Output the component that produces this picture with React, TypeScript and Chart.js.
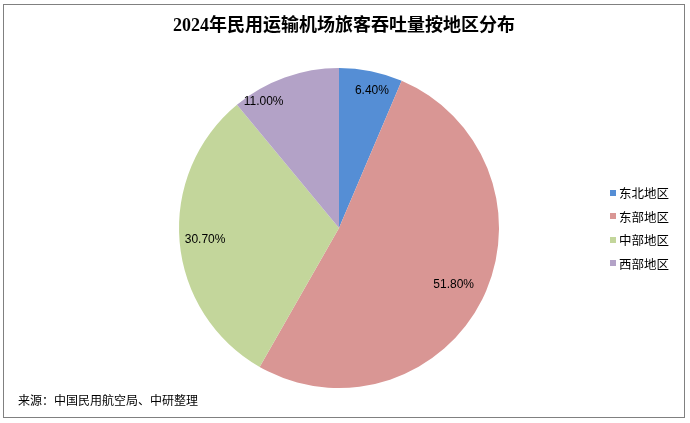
import React, { useEffect, useRef } from "react";
import { Chart, registerables } from "chart.js";

Chart.register(...registerables);

const TITLE = "2024年民用运输机场旅客吞吐量按地区分布";
const SOURCE = "来源：中国民用航空局、中研整理";
const categories = ["东北地区", "东部地区", "中部地区", "西部地区"];
const shares = [6.4, 51.8, 30.7, 11.0];
const colors = ["#558ED5", "#D99694", "#C3D69B", "#B3A2C7"];
// label placement style: radial fraction and angle nudge (degrees)
const labelRadius = [0.88, 0.8, 0.84, 0.92];
const labelAngleNudge = [2, 0, 0, -11];

const labelPlugin = {
  id: "pctLabels",
  afterDatasetsDraw(chart: any) {
    const ctx = chart.ctx;
    const meta = chart.getDatasetMeta(0);
    ctx.save();
    ctx.font = "12px 'Liberation Sans', Arial, sans-serif";
    ctx.fillStyle = "#000";
    ctx.textAlign = "center";
    ctx.textBaseline = "middle";
    meta.data.forEach((arc: any, i: number) => {
      const mid = (arc.startAngle + arc.endAngle) / 2 + (labelAngleNudge[i] * Math.PI) / 180;
      const r = arc.outerRadius * labelRadius[i];
      const x = arc.x + Math.cos(mid) * r;
      const y = arc.y + Math.sin(mid) * r;
      ctx.fillText(shares[i].toFixed(2) + "%", x, y);
    });
    ctx.restore();
  },
};

export default function App() {
  const ref = useRef<HTMLCanvasElement>(null);
  useEffect(() => {
    document.body.style.margin = "0";
    const chart = new Chart(ref.current!, {
      type: "pie",
      data: {
        labels: categories,
        datasets: [
          {
            data: shares,
            backgroundColor: colors,
            borderWidth: 0,
          },
        ],
      },
      options: {
        responsive: false,
        animation: false,
        layout: { padding: { left: 179, right: 191, top: 68, bottom: 35 } },
        plugins: {
          legend: { display: false },
          tooltip: { enabled: false },
          title: { display: false },
        },
      },
      plugins: [labelPlugin],
    });
    return () => chart.destroy();
  }, []);

  return (
    <div style={{ position: "fixed", left: 0, top: 0, width: 690, height: 423, background: "#fff" }}>
      <canvas ref={ref} width={690} height={423} style={{ position: "absolute", left: 0, top: 0 }} />
      <div
        style={{
          position: "absolute",
          left: 3,
          top: 4,
          width: 680,
          height: 412,
          border: "1px solid #808080",
          pointerEvents: "none",
        }}
      />
      <div
        style={{
          position: "absolute",
          left: 0,
          width: 688,
          top: 13,
          textAlign: "center",
          font: "bold 18px 'Liberation Serif', 'Noto Sans CJK SC', serif",
          color: "#000",
          lineHeight: "24px",
        }}
      >
        {TITLE}
      </div>
      <div style={{ position: "absolute", left: 610, top: 181 }}>
        {categories.map((c, i) => (
          <div
            key={c}
            style={{
              display: "flex",
              alignItems: "center",
              height: 23.5,
              font: "12.5px 'Noto Sans CJK SC', sans-serif",
              color: "#000",
            }}
          >
            <span style={{ display: "inline-block", width: 6, height: 6, background: colors[i], marginRight: 3 }} />
            {c}
          </div>
        ))}
      </div>
      <div
        style={{
          position: "absolute",
          left: 18,
          top: 391,
          font: "12px 'Noto Sans CJK SC', sans-serif",
          color: "#000",
          lineHeight: "18px",
        }}
      >
        {SOURCE}
      </div>
    </div>
  );
}
